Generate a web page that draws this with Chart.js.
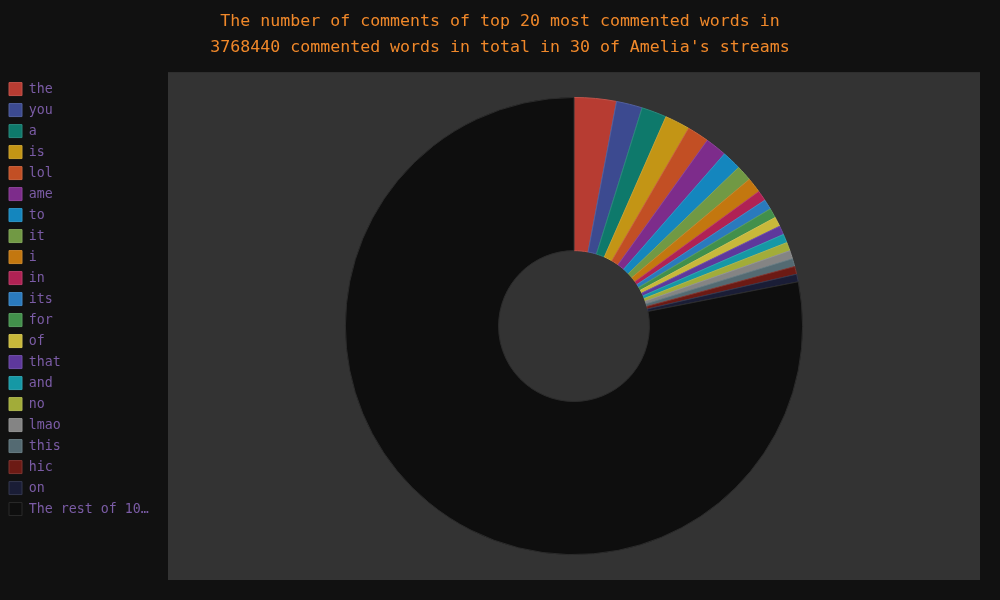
<!DOCTYPE html>
<html>
<head>
<meta charset="utf-8">
<script src="https://cdn.jsdelivr.net/npm/chart.js@4"></script>
<style>
  html, body { margin: 0; padding: 0; background: #111111; }
  #wrap { width: 1000px; height: 600px; }
</style>
</head>
<body>
<div id="wrap"><canvas id="chart"></canvas></div>
<script>
'use strict';

// ***** DATA *****
let words = ['the', 'you', 'a', 'is', 'lol', 'ame', 'to', 'it', 'i', 'in', 'its',
  'for', 'of', 'that', 'and', 'no', 'lmao', 'this', 'hic', 'on', 'The rest of 10…'];

let topCounts = [112400, 69100, 66900, 66500, 58500, 57400, 51400, 42100, 40400, 27800, 26900,
  26000, 25500, 24000, 23200, 22600, 22000, 21300, 20800, 20400];

let totalWords = 3768440;
let streamCount = 30;

let titleLines = [
  'The number of comments of top 20 most commented words in',
  totalWords + ' commented words in total in ' + streamCount + " of Amelia's streams"
];

// ***** STYLES *****
let palette = ['#b73c32', '#3c4a90', '#0e796b', '#c39515', '#c24f24', '#7d2c8b', '#1486be',
  '#719944', '#c3770f', '#b02254', '#2a7abd', '#42904b', '#c8b83a', '#5e389c', '#1598a5',
  '#a2ac39', '#848484', '#546a72', '#6c1a14', '#1a1d36', '#0e0e0e'];

// ***** HELPERS *****
function lighten(hex, amt) {
  let n = parseInt(hex.slice(1), 16);
  let r = (n >> 16) & 255, g = (n >> 8) & 255, b = n & 255;
  r = Math.round(r + (255 - r) * amt);
  g = Math.round(g + (255 - g) * amt);
  b = Math.round(b + (255 - b) * amt);
  return `rgb(${r},${g},${b})`;
}

function shiftDraw(box, dx, dy) {
  let origDraw = box.draw;
  box.draw = function () {
    let ctx = this.ctx || this.chart.ctx;
    ctx.save();
    ctx.translate(dx, dy);
    origDraw.apply(this, arguments);
    ctx.restore();
  };
}

let restCount = totalWords - topCounts.reduce((a, b) => a + b, 0);
let values = topCounts.concat([restCount]);
let borders = palette.map(c => lighten(c, 0.12));

// gray panel behind the doughnut
let panelPlugin = {
  id: 'panel',
  beforeDraw(chart) {
    let a = chart.chartArea;
    let ctx = chart.ctx;
    ctx.save();
    ctx.fillStyle = '#333333';
    ctx.fillRect(a.left, a.top, a.right - a.left, a.bottom - a.top);
    ctx.restore();
  }
};

// nudge legend and title into place
let boxTweakPlugin = {
  id: 'boxTweak',
  beforeInit(chart) {
    let legend = chart.legend;
    if (legend) {
      let origFit = legend.fit;
      legend.fit = function () {
        origFit.call(this);
        this.width = 169;
      };
      shiftDraw(legend, 2.3, 2.6);
    }
    if (chart.titleBlock) {
      shiftDraw(chart.titleBlock, 10.5, 2);
    }
  }
};

let canvasElem = document.getElementById('chart');

let chartObj = {
  type: 'doughnut',
  data: {
    labels: words,
    datasets: [{
      data: values,
      backgroundColor: palette,
      borderColor: borders,
      borderWidth: 1
    }]
  },
  options: {
    responsive: true,
    maintainAspectRatio: false,
    animation: false,
    cutout: '33%',
    radius: '90.2%',
    layout: { padding: { left: -1, right: 20, bottom: 20, top: 0 } },
    plugins: {
      title: {
        display: true,
        text: titleLines,
        color: '#f0882a',
        font: { family: 'DejaVu Sans Mono', size: 16.6, weight: 'normal', lineHeight: 1.57 },
        padding: { top: 7, bottom: 13 }
      },
      legend: {
        position: 'left',
        align: 'start',
        fullSize: false,
        labels: {
          color: '#7b5ca6',
          boxWidth: 13,
          boxHeight: 13,
          padding: 7.7,
          font: { family: 'DejaVu Sans Mono', size: 13.3 }
        }
      },
      tooltip: { enabled: false }
    }
  },
  plugins: [panelPlugin, boxTweakPlugin]
};

new Chart(canvasElem, chartObj);
</script>
</body>
</html>
